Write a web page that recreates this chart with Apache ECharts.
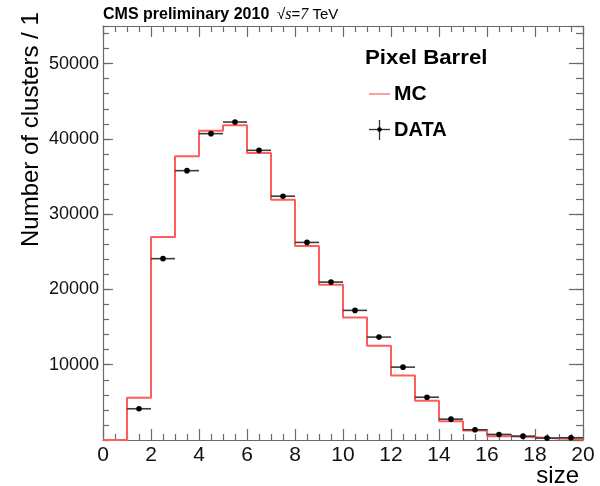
<!DOCTYPE html>
<html>
<head>
<meta charset="utf-8">
<script src="https://cdn.jsdelivr.net/npm/echarts@6/dist/echarts.min.js"></script>
<style>
  html, body { margin: 0; padding: 0; background: #fff; }
  #chart { width: 600px; height: 486px; }
</style>
</head>
<body>
<div id="chart"></div>
<script>
// Cluster size distribution, pixel barrel: simulation vs. collision data
const binLowEdges = [0, 1, 2, 3, 4, 5, 6, 7, 8, 9, 10, 11, 12, 13, 14, 15, 16, 17, 18, 19];
const binWidth = 1;
const mcCounts = [0, 5615, 26960, 37680, 41100, 41800, 38120, 31930, 25760, 20630,
                  16290, 12530, 8580, 5220, 2505, 1270, 510, 380, 200, 90];
const dataCenters = [1.5, 2.5, 3.5, 4.5, 5.5, 6.5, 7.5, 8.5, 9.5, 10.5,
                     11.5, 12.5, 13.5, 14.5, 15.5, 16.5, 17.5, 18.5, 19.5];
const dataCounts = [4150, 24090, 35780, 40700, 42240, 38480, 32390, 26250, 20980,
                    17220, 13670, 9680, 5680, 2770, 1360, 740, 510, 250, 300];
const xTickLabels = ['0', '2', '4', '6', '8', '10', '12', '14', '16', '18', '20'];
const yTickLabels = ['10000', '20000', '30000', '40000', '50000'];

const FONT = 'Liberation Sans, Arial, Helvetica, sans-serif';
const FRAME = '#6a6a6a';
const MC_COLOR = '#ff5c5c';

// Step outline: one point per lower bin edge, plus the closing upper edge
const mcStep = binLowEdges.map((x, i) => [x, mcCounts[i]]);
mcStep.push([binLowEdges[binLowEdges.length - 1] + binWidth, mcCounts[mcCounts.length - 1]]);

const dataPoints = dataCenters.map((x, i) => [x, dataCounts[i]]);

const chart = echarts.init(document.getElementById('chart'), null, { renderer: 'canvas' });

function tickAxisX(position, showLabel) {
  return {
    type: 'value', position: position, min: 0, max: 20, interval: 2,
    axisLine: { show: true, onZero: false, lineStyle: { color: FRAME, width: 1.2 } },
    axisTick: { show: true, inside: true, length: 11, lineStyle: { color: FRAME, width: 1.2 } },
    minorTick: { show: true, splitNumber: 4, length: 6, lineStyle: { color: FRAME, width: 1.2 } },
    splitLine: { show: false },
    axisLabel: showLabel ? {
      show: true, margin: 5, fontFamily: FONT, fontSize: 21, color: '#111',
      formatter: v => xTickLabels[Math.round(v / 2)] ?? ''
    } : { show: false }
  };
}

function tickAxisY(position, interval, tickLen, showLabel, showLine) {
  return {
    type: 'value', position: position, min: 0, max: 55000, interval: interval,
    axisLine: { show: showLine, onZero: false, lineStyle: { color: FRAME, width: 1.2 } },
    axisTick: { show: true, inside: true, length: tickLen, lineStyle: { color: FRAME, width: 1.2 } },
    splitLine: { show: false },
    axisLabel: showLabel ? {
      show: true, margin: 4, fontFamily: FONT, fontSize: 18, color: '#111',
      showMinLabel: false, showMaxLabel: false,
      formatter: v => yTickLabels[Math.round(v / 10000) - 1] ?? ''
    } : { show: false }
  };
}

const option = {
  animation: false,
  backgroundColor: '#fff',
  grid: { left: 103, right: 17, top: 26, bottom: 46, containLabel: false },
  xAxis: [
    tickAxisX('bottom', true),
    tickAxisX('top', false)
  ],
  yAxis: [
    tickAxisY('left', 10000, 10, true, true),
    tickAxisY('left', 2000, 6, false, false),
    tickAxisY('right', 10000, 14, false, true),
    tickAxisY('right', 2000, 7, false, false)
  ],
  series: [
    {
      name: 'MC',
      type: 'line',
      xAxisIndex: 0, yAxisIndex: 0,
      step: 'end',
      data: mcStep,
      showSymbol: false,
      lineStyle: { color: MC_COLOR, width: 2 },
      z: 2
    },
    {
      name: 'DATA',
      type: 'custom',
      xAxisIndex: 0, yAxisIndex: 0,
      data: dataPoints,
      encode: { x: 0, y: 1 },
      z: 3,
      renderItem: function (params, api) {
        const x = api.value(0), y = api.value(1);
        const l = api.coord([x - binWidth / 2, y]);
        const r = api.coord([x + binWidth / 2, y]);
        const c = api.coord([x, y]);
        return {
          type: 'group',
          children: [
            { type: 'line', shape: { x1: l[0], y1: l[1], x2: r[0], y2: r[1] },
              style: { stroke: '#3c3c3c', lineWidth: 1.6 } },
            { type: 'circle', shape: { cx: c[0], cy: c[1], r: 2.8 },
              style: { fill: '#000' } }
          ]
        };
      }
    }
  ],
  graphic: [
    // header
    { type: 'text', x: 103, y: 15,
      style: { text: 'CMS preliminary 2010', font: 'bold 16px ' + FONT, fill: '#000',
               align: 'left', verticalAlign: 'middle' } },
    { type: 'text', x: 277, y: 15,
      style: {
        text: '{r|√}{i|s}{r|=}{i|7}{r| TeV}',
        align: 'left', verticalAlign: 'middle',
        rich: {
          r: { fontFamily: FONT, fontSize: 15, fill: '#000' },
          i: { fontFamily: 'Liberation Serif, serif', fontStyle: 'italic', fontSize: 16, fill: '#000' }
        }
      } },
    // axis titles
    { type: 'text', x: 579, y: 476,
      style: { text: 'size', font: '24px ' + FONT, fill: '#000', align: 'right', verticalAlign: 'middle' } },
    { type: 'text', x: 31, y: 247, rotation: Math.PI / 2,
      style: { text: 'Number of clusters / 1', font: '24px ' + FONT, fill: '#000',
               align: 'left', verticalAlign: 'middle' } },
    // legend
    { type: 'text', x: 365, y: 58, scaleX: 1.06,
      style: { text: 'Pixel Barrel', font: 'bold 21px ' + FONT, fill: '#000', align: 'left', verticalAlign: 'middle' } },
    { type: 'line', shape: { x1: 369, y1: 94, x2: 390, y2: 94 },
      style: { stroke: MC_COLOR, lineWidth: 2, opacity: 0.6 } },
    { type: 'text', x: 394, y: 94.5,
      style: { text: 'MC', font: 'bold 21px ' + FONT, fill: '#000', align: 'left', verticalAlign: 'middle' } },
    { type: 'line', shape: { x1: 369, y1: 129.5, x2: 390, y2: 129.5 },
      style: { stroke: '#333', lineWidth: 1.3 } },
    { type: 'line', shape: { x1: 379.5, y1: 120, x2: 379.5, y2: 140 },
      style: { stroke: '#333', lineWidth: 1.3 } },
    { type: 'circle', shape: { cx: 379.5, cy: 129.5, r: 2.3 }, style: { fill: '#000' } },
    { type: 'text', x: 394, y: 130,
      style: { text: 'DATA', font: 'bold 20px ' + FONT, fill: '#000', align: 'left', verticalAlign: 'middle' } }
  ]
};

chart.setOption(option);
</script>
</body>
</html>
